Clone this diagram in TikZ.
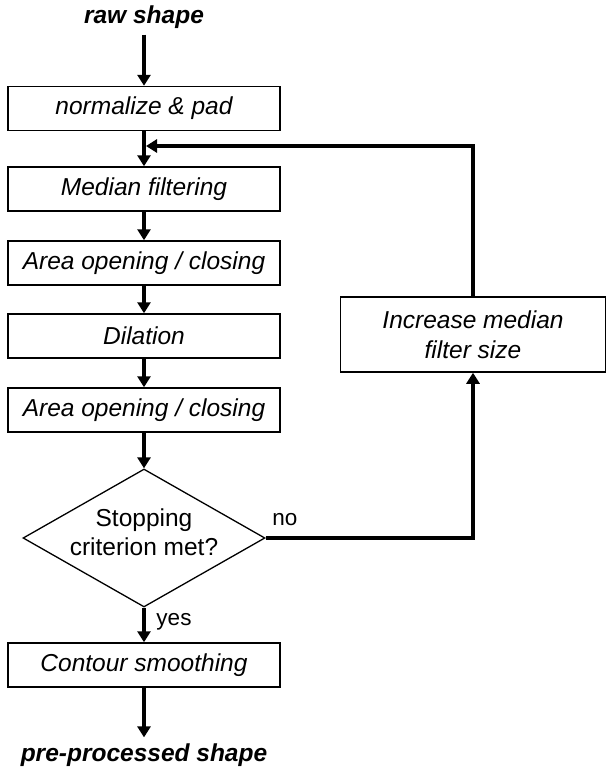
\documentclass[tikz,border=0pt]{standalone}
\usepackage{fontspec}
\setmainfont{Liberation Sans}
\usetikzlibrary{arrows.meta,shapes.geometric}
\begin{document}
\begin{tikzpicture}[x=1pt,y=-1pt,
  stepbox/.style={draw, line width=1.5pt, minimum width=272pt, minimum height=44pt,
    inner sep=0pt, font=\fontsize{24.5}{30}\selectfont\itshape, align=center},
  terminal/.style={font=\fontsize{24.5}{30}\selectfont\bfseries\itshape, inner sep=6pt},
  decision/.style={draw, diamond, line width=1.3pt, minimum width=242pt, minimum height=138pt,
    inner sep=0pt, aspect=1.75},
  dectext/.style={font=\fontsize{24.5}{29.5}\selectfont, align=center, inner sep=0pt},
  lbl/.style={font=\fontsize{22.5}{26}\selectfont, inner sep=0pt},
  flow/.style={line width=3.5pt, -{Triangle[length=11pt,width=13pt]}}
]
\useasboundingbox (0,0) rectangle (606,771);

% main pipeline
\node[terminal] (raw) at (144,17) {raw shape};
\node[stepbox] (norm) at (144,108.5) {normalize \& pad};
\node[stepbox] (med) at (144,189) {Median filtering};
\node[stepbox] (ao1) at (144,263) {Area opening / closing};
\node[stepbox] (dil) at (144,336) {Dilation};
\node[stepbox] (ao2) at (144,410) {Area opening / closing};
\node[decision] (stop) at (144,538) {};
\node[dectext] (stoptext) at ([yshift=6pt]stop.center) {Stopping\\criterion met?};
\node[stepbox] (cont) at (144,665) {Contour smoothing};
\node[terminal] (out) at (144,755) {pre-processed shape};

% feedback branch
\node[stepbox, minimum width=265pt, minimum height=75pt] (inc) at (473,334.5) {Increase median\\filter size};
\coordinate (join) at (146,146);

\draw[flow] (raw) -- (norm);
\draw[flow] (norm) -- (med);
\draw[flow] (med) -- (ao1);
\draw[flow] (ao1) -- (dil);
\draw[flow] (dil) -- (ao2);
\draw[flow] (ao2) -- (stop);
\draw[flow] (stop) -- (cont);
\draw[flow] (cont) -- (out);

\draw[flow] (stop.east) -| (inc.south);
\draw[flow] (inc.north) |- (join);

\node[lbl] (no) at (285,520) {no};
\node[lbl] (yes) at (174,622) {yes};
\end{tikzpicture}
\end{document}
